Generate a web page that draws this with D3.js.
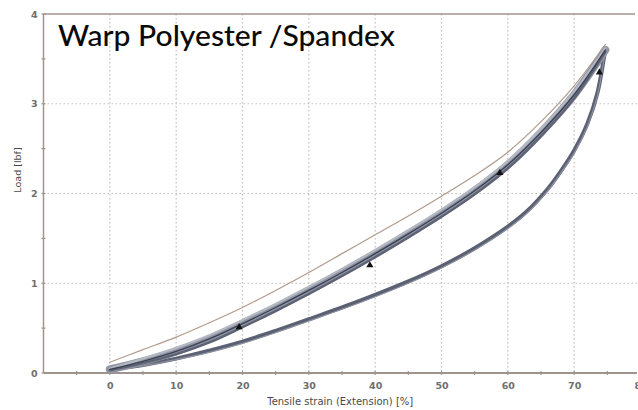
<!DOCTYPE html>
<html>
<head>
<meta charset="utf-8">
<script src="https://cdn.jsdelivr.net/npm/d3@7"></script>
<style>
  html, body { margin: 0; padding: 0; background: #ffffff; }
  svg { display: block; }
</style>
</head>
<body>
<svg id="chart" width="638" height="410"></svg>
<script>
// Cyclic tensile test of warp polyester/spandex: load vs. strain, several load/unload cycles
const xTicks = [0, 10, 20, 30, 40, 50, 60, 70, 80];
const yTicks = [0, 1, 2, 3, 4];
const xMinorTicks = [-5, 5, 15, 25, 35, 45, 55, 65, 75];
const yMinorTicks = [0.5, 1.5, 2.5, 3.5];

// first extension (thin line)
const strainFirst = [0, 5, 10, 15, 20, 25, 30, 35, 40, 45, 50, 55, 60, 65, 70, 74.7];
const loadFirst   = [0.12, 0.26, 0.40, 0.56, 0.73, 0.92, 1.12, 1.33, 1.54, 1.75, 1.97, 2.20, 2.46, 2.80, 3.20, 3.66];

// later loading cycles (bundle)
const strainLoad = [0, 5, 10, 15, 20, 25, 30, 35, 40, 45, 50, 55, 60, 65, 70, 74.7];
const loadCycle2 = [0.05, 0.16, 0.28, 0.42, 0.59, 0.77, 0.96, 1.16, 1.37, 1.59, 1.82, 2.07, 2.36, 2.72, 3.14, 3.62];
const loadCycle3 = [0.04, 0.13, 0.24, 0.38, 0.55, 0.73, 0.92, 1.12, 1.33, 1.55, 1.78, 2.03, 2.32, 2.68, 3.10, 3.60];
const loadCycle4 = [0.03, 0.11, 0.21, 0.34, 0.51, 0.69, 0.88, 1.08, 1.29, 1.51, 1.74, 1.99, 2.28, 2.64, 3.06, 3.58];

// unloading branch
const strainUnload = [0, 5, 10, 15, 20, 25, 30, 35, 40, 45, 50, 55, 60, 63, 66, 68, 70, 72, 73.5, 74.7];
const loadUnloadA  = [0.04, 0.09, 0.16, 0.25, 0.35, 0.47, 0.60, 0.73, 0.87, 1.02, 1.19, 1.39, 1.63, 1.81, 2.05, 2.25, 2.48, 2.78, 3.12, 3.62];
const loadUnloadB  = [0.04, 0.08, 0.15, 0.23, 0.33, 0.45, 0.58, 0.71, 0.85, 1.00, 1.17, 1.37, 1.61, 1.79, 2.03, 2.23, 2.45, 2.75, 3.09, 3.60];

// cycle markers
const markerStrain = [19.5, 39.2, 58.8, 73.8];
const markerLoad   = [0.51, 1.20, 2.23, 3.35];

const svg = d3.select("#chart");
const x = d3.scaleLinear().domain([-10, 80]).range([43.5, 640.5]);
const y = d3.scaleLinear().domain([0, 4]).range([373, 14]);

const plotLeft = x(-10), plotRight = 637, plotTop = y(4), plotBottom = y(0);
const axisColor = "#a0958e";
const labelFont = "'DejaVu Sans', sans-serif";

// dotted grid
const grid = svg.append("g");
grid.selectAll("line.vx").data(xTicks.filter(d => d < 80)).join("line")
  .attr("x1", d => x(d)).attr("x2", d => x(d))
  .attr("y1", plotTop).attr("y2", plotBottom)
  .attr("stroke", "#c4bcba").attr("stroke-width", 1.2)
  .attr("stroke-dasharray", "1.5,2.5");
grid.selectAll("line.hy").data(yTicks.filter(d => d > 0 && d < 4)).join("line")
  .attr("x1", plotLeft).attr("x2", plotRight)
  .attr("y1", d => y(d)).attr("y2", d => y(d))
  .attr("stroke", "#c4bcba").attr("stroke-width", 1.2)
  .attr("stroke-dasharray", "1.5,2.5");

// frame: top, left and bottom lines
svg.append("line").attr("x1", plotLeft).attr("x2", 635).attr("y1", plotTop).attr("y2", plotTop)
  .attr("stroke", axisColor).attr("stroke-width", 1.5);

const xAxis = d3.axisBottom(x).tickValues(xTicks).tickSize(0).tickPadding(9)
  .tickFormat(d3.format("d"));
const gx = svg.append("g").attr("transform", `translate(0,${plotBottom})`).call(xAxis);
gx.select(".domain").remove();
gx.selectAll("text").attr("font-family", labelFont).attr("font-size", 9.5)
  .attr("font-weight", "bold").attr("fill", "#6e6e6e");
svg.append("line").attr("x1", plotLeft).attr("x2", plotRight).attr("y1", plotBottom).attr("y2", plotBottom)
  .attr("stroke", axisColor).attr("stroke-width", 2);

const yAxis = d3.axisLeft(y).tickValues(yTicks).tickSize(0).tickPadding(6)
  .tickFormat(d3.format("d"));
const gy = svg.append("g").attr("transform", `translate(${plotLeft},0)`).call(yAxis);
gy.select(".domain").remove();
gy.selectAll("text").attr("font-family", labelFont).attr("font-size", 9.5)
  .attr("font-weight", "bold").attr("fill", "#6e6e6e");
svg.append("line").attr("x1", plotLeft).attr("x2", plotLeft).attr("y1", plotTop).attr("y2", plotBottom)
  .attr("stroke", axisColor).attr("stroke-width", 1.5);

// small tick marks crossing the axes
svg.selectAll("line.xt").data(xTicks.concat(xMinorTicks)).join("line")
  .attr("x1", d => x(d)).attr("x2", d => x(d))
  .attr("y1", plotBottom - 2).attr("y2", plotBottom + 2)
  .attr("stroke", axisColor).attr("stroke-width", 1.2);
svg.selectAll("line.yt").data(yTicks.concat(yMinorTicks)).join("line")
  .attr("x1", plotLeft - 2).attr("x2", plotLeft + 2)
  .attr("y1", d => y(d)).attr("y2", d => y(d))
  .attr("stroke", axisColor).attr("stroke-width", 1.2);

// axis titles
svg.append("text").attr("x", (plotLeft + plotRight) / 2).attr("y", 405)
  .attr("text-anchor", "middle").attr("font-family", labelFont)
  .attr("font-size", 10).attr("fill", "#4a4a4a")
  .text("Tensile strain (Extension) [%]");
svg.append("text").attr("transform", "translate(21,170) rotate(-90)")
  .attr("text-anchor", "middle").attr("font-family", labelFont)
  .attr("font-size", 9.5).attr("fill", "#4a4a4a")
  .text("Load [lbf]");

// curves
const line = d3.line().x(d => x(d[0])).y(d => y(d[1])).curve(d3.curveCatmullRom.alpha(0.5));
const zip = (xs, ys) => xs.map((v, i) => [v, ys[i]]);
const curves = svg.append("g").attr("fill", "none")
  .attr("stroke-linecap", "round").attr("stroke-linejoin", "round");

// unloading branch
curves.append("path").attr("d", line(zip(strainUnload, loadUnloadA)))
  .attr("stroke", "#5b6072").attr("stroke-width", 4);
curves.append("path").attr("d", line(zip(strainUnload, loadUnloadB)))
  .attr("stroke", "#8c91a0").attr("stroke-width", 1.2);

// loading bundle
curves.append("path").attr("d", line(zip(strainLoad, loadCycle3)))
  .attr("stroke", "#8f94a2").attr("stroke-width", 8);
curves.append("path").attr("d", line(zip(strainLoad, loadCycle2)))
  .attr("stroke", "#b4b8c2").attr("stroke-width", 2.2);
curves.append("path").attr("d", line(zip(strainLoad, loadCycle4)))
  .attr("stroke", "#5d6275").attr("stroke-width", 2.4);
curves.append("path").attr("d", line(zip(strainLoad, loadCycle3)))
  .attr("stroke", "#3a3f52").attr("stroke-width", 1.3);

// first extension
curves.append("path").attr("d", line(zip(strainFirst, loadFirst)))
  .attr("stroke", "#b29b8d").attr("stroke-width", 1.2);

// cycle markers
svg.selectAll("path.mk").data(zip(markerStrain, markerLoad)).join("path")
  .attr("d", d3.symbol(d3.symbolTriangle, 22))
  .attr("transform", d => `translate(${x(d[0])},${y(d[1])})`)
  .attr("fill", "#111");

// chart title
svg.append("text").attr("x", 58).attr("y", 46)
  .attr("font-family", "Lato, 'Open Sans', sans-serif").attr("font-size", 29)
  .attr("font-weight", 500).attr("fill", "#0a0a0a")
  .attr("textLength", 337).attr("lengthAdjust", "spacingAndGlyphs")
  .text("Warp Polyester /Spandex");
</script>
</body>
</html>
